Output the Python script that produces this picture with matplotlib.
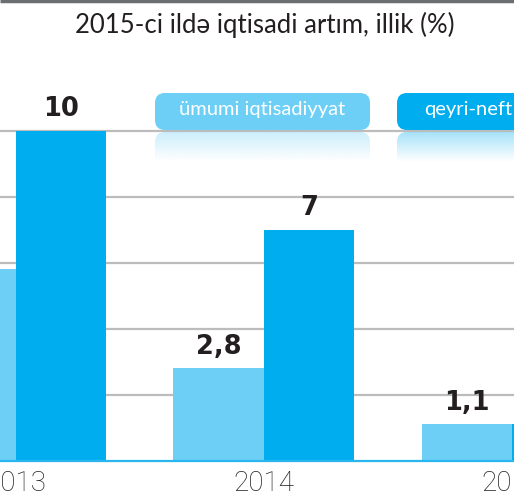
import numpy as np
import matplotlib.pyplot as plt
from matplotlib.patches import FancyBboxPatch

# data
years = ["2013", "2014", "2015"]
overall = [5.8, 2.8, 1.1]      # ümumi iqtisadiyyat
non_oil = [10, 7, 1.1]         # qeyri-neft
grid_vals = [2, 4, 6, 8, 10]

light = "#6dcff6"
dark = "#00aeef"

W, H = 514, 500
fig = plt.figure(figsize=(W / 100, H / 100), dpi=100)

# main axes: baseline ~460 px from top, 33 px per unit, groups 248 px apart
base = 39.3
ax = fig.add_axes([0, base / H, 1, 1 - base / H])
ax.set_xlim(-16 / 248, (W - 16) / 248)
ax.set_ylim(0, (H - base) / 33)

x = np.arange(len(years))
w = 90.5 / 248
b1 = ax.bar(x - w / 2, overall, w, color=light, zorder=2)
b2 = ax.bar(x + w / 2, non_oil, w, color=dark, zorder=2)


def fmt(v):
    return f"{v:g}".replace(".", ",")


for bars, vals in ((b1, overall), (b2, non_oil)):
    for r, v in zip(bars, vals):
        ax.annotate(fmt(v), (r.get_x() + r.get_width() / 2, v),
                    xytext=(0, 6), textcoords="offset points",
                    ha="center", va="bottom", fontsize=18.5,
                    fontweight="bold", color="#231f20", zorder=3)

ax.set_yticks(grid_vals)
ax.set_yticklabels([])
ax.yaxis.grid(True, color="#bcbcbc", linewidth=1.6, zorder=0)
ax.set_axisbelow(True)
ax.set_xticks(x)
ax.set_xticklabels(years, fontsize=20, color="#231f20",
                   family="Roboto", fontweight="light")
ax.tick_params(length=0)
ax.tick_params(axis="x", pad=7)
for s in ("top", "left", "right"):
    ax.spines[s].set_visible(False)
ax.spines["bottom"].set_color("#29b6ef")
ax.spines["bottom"].set_linewidth(1.6)
ax.spines["bottom"].set_zorder(3)
ax.set_facecolor("none")

# overlay in pixel coordinates for title, legend and top rule
ov = fig.add_axes([0, 0, 1, 1], zorder=5)
ov.set_xlim(0, W)
ov.set_ylim(H, 0)
ov.axis("off")
ov.set_facecolor("none")

ov.plot([0, W], [1, 1], color="#6d6e71", lw=2.5, solid_capstyle="butt")
ov.text(265, 25, "2015-ci ildə iqtisadi artım, illik (%)", ha="center",
        va="center", fontsize=18.5, color="#231f20", family="Lato")


def legend_box(x0, x1, color, label, tx, ha):
    y0, y1 = 93, 130
    box = FancyBboxPatch((x0, y0), x1 - x0, y1 - y0,
                         boxstyle="round,pad=0,rounding_size=10",
                         fc=color, ec="none")
    ov.add_patch(box)
    ov.text(tx, 110, label, ha=ha, va="center", fontsize=14.5,
            color="white", family="Lato")
    # faded reflection under the box
    rgb = np.array(plt.matplotlib.colors.to_rgb(color))
    n = 64
    grad = np.zeros((n, 1, 4))
    grad[:, 0, :3] = rgb
    grad[:, 0, 3] = np.linspace(0.35, 0.0, n)
    refl = FancyBboxPatch((x0, y1 + 2), x1 - x0, 34,
                          boxstyle="round,pad=0,rounding_size=10",
                          fc="none", ec="none")
    ov.add_patch(refl)
    im = ov.imshow(grad, extent=(x0, x1, y1 + 32, y1 + 2), aspect="auto",
                   interpolation="bilinear")
    im.set_clip_path(refl)


legend_box(155, 370, light, "ümumi iqtisadiyyat", 262, "center")
legend_box(397, 612, dark, "qeyri-neft", 424, "left")
ov.set_xlim(0, W)
ov.set_ylim(H, 0)

fig.savefig("out.png", dpi=100)
